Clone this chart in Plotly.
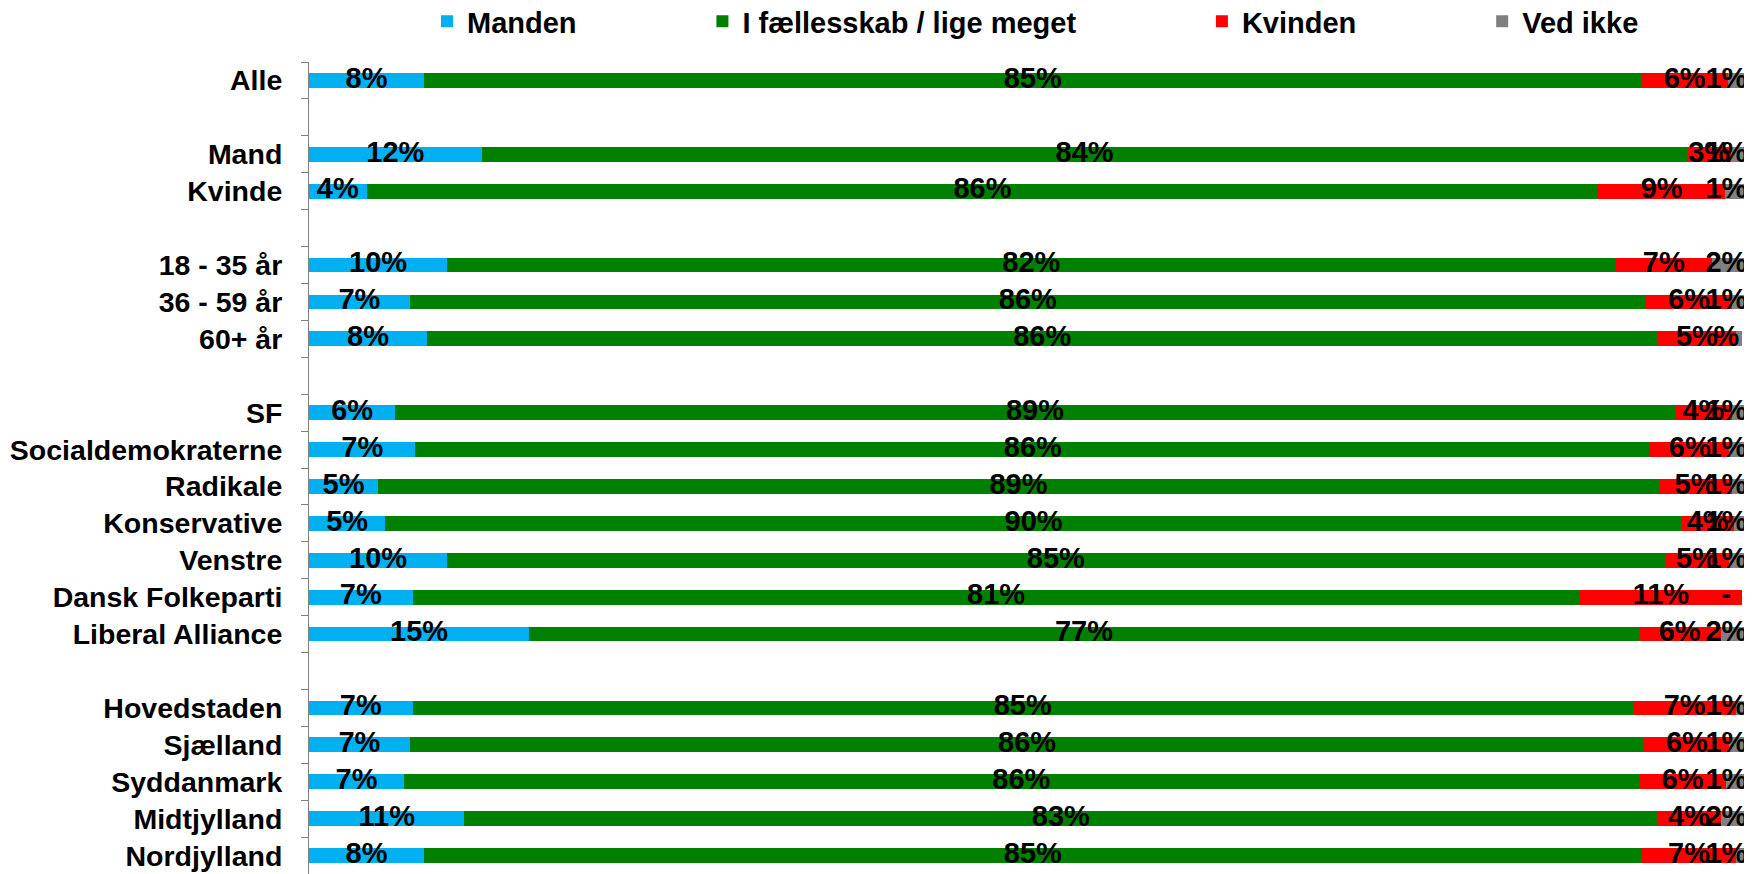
import plotly.graph_objects as go

categories = [
    "Alle", " ",
    "Mand", "Kvinde", "  ",
    "18 - 35 år", "36 - 59 år", "60+ år", "   ",
    "SF", "Socialdemokraterne", "Radikale", "Konservative", "Venstre",
    "Dansk Folkeparti", "Liberal Alliance", "    ",
    "Hovedstaden", "Sjælland", "Syddanmark", "Midtjylland", "Nordjylland",
]

manden = [8.0, None, 12.0, 4.0, None, 9.6, 7.0, 8.2, None,
          6.0, 7.4, 4.8, 5.3, 9.6, 7.2, 15.3, None,
          7.2, 7.0, 6.6, 10.8, 8.0]
faelles = [84.6, None, 83.8, 85.6, None, 81.2, 85.9, 85.5, None,
           88.9, 85.8, 89.0, 90.1, 84.6, 81.1, 77.1, None,
           84.8, 85.8, 85.8, 82.9, 84.6]
kvinden = [6.0, None, 3.0, 8.8, None, 6.7, 6.0, 5.5, None,
           4.0, 5.5, 5.1, 3.6, 4.5, 11.3, 5.7, None,
           7.2, 5.9, 6.1, 4.4, 6.6]
ved_ikke = [1.4, None, 1.2, 1.6, None, 2.5, 1.1, 0.4, None,
            1.1, 1.3, 1.1, 1.0, 1.3, 0.0, 1.9, None,
            0.8, 1.3, 1.5, 1.9, 0.8]

# printed labels as shown on the chart
manden_lbl = ["8%", "", "12%", "4%", "", "10%", "7%", "8%", "",
              "6%", "7%", "5%", "5%", "10%", "7%", "15%", "",
              "7%", "7%", "7%", "11%", "8%"]
faelles_lbl = ["85%", "", "84%", "86%", "", "82%", "86%", "86%", "",
               "89%", "86%", "89%", "90%", "85%", "81%", "77%", "",
               "85%", "86%", "86%", "83%", "85%"]
kvinden_lbl = ["6%", "", "3%", "9%", "", "7%", "6%", "5%", "",
               "4%", "6%", "5%", "4%", "5%", "11%", "6%", "",
               "7%", "6%", "6%", "4%", "7%"]
ved_ikke_lbl = ["1%", "", "1%", "1%", "", "2%", "1%", "%", "",
                "1%", "1%", "1%", "1%", "1%", "-", "2%", "",
                "1%", "1%", "1%", "2%", "1%"]

PAD = "\u00a0" * 15
series = [
    ("Manden" + PAD, manden, manden_lbl, "#00B0F0"),
    ("I fællesskab / lige meget" + PAD, faelles, faelles_lbl, "#008000"),
    ("Kvinden" + PAD, kvinden, kvinden_lbl, "#FF0000"),
    ("Ved ikke", ved_ikke, ved_ikke_lbl, "#808080"),
]

FONT = dict(family="Arial, Liberation Sans, sans-serif", size=29,
            color="black", weight="bold")
TICK_FONT = dict(FONT, size=28.5)
LABEL_MAX_X = 98.5   # keep labels inside the chart like Excel does

fig = go.Figure()
base = [0.0] * len(categories)
for name, vals, lbl, color in series:
    fig.add_trace(go.Bar(
        y=categories, x=vals, name=name, orientation="h",
        marker=dict(color=color, line=dict(width=0)),
        hoverinfo="skip",
    ))
    # label positions: centre of each stacked segment
    xs, ys, ts = [], [], []
    for i, v in enumerate(vals):
        if v is None:
            continue
        xs.append(min(base[i] + v / 2, LABEL_MAX_X))
        ys.append(categories[i])
        ts.append(lbl[i])
        base[i] += v
    fig.add_trace(go.Scatter(
        x=xs, y=ys, text=ts, mode="text", textposition="middle center",
        textfont=FONT, showlegend=False, cliponaxis=False, hoverinfo="skip",
    ))

n = len(categories)
fig.update_layout(
    barmode="stack", bargap=0.6,
    width=1744, height=866,
    margin=dict(l=301, r=4, t=54, b=0, autoexpand=False),
    paper_bgcolor="white", plot_bgcolor="white",
    font=FONT,
    showlegend=True,
    legend=dict(orientation="h", x=0.082, xanchor="left", traceorder="normal",
                y=1.05, yanchor="middle", font=FONT,
                bgcolor="rgba(0,0,0,0)"),
    xaxis=dict(range=[0, 100], visible=False, showgrid=False),
    yaxis=dict(range=[n - 0.5, -0.5], type="category",
               categoryorder="array", categoryarray=categories,
               tickmode="array", tickvals=categories, ticktext=categories,
               tickson="boundaries", ticks="outside", ticklen=7,
               tickcolor="#808080", showline=True, linecolor="#808080",
               linewidth=1, showgrid=False, tickfont=TICK_FONT,
               ticklabelstandoff=20),
)

fig.write_html("out.html")
